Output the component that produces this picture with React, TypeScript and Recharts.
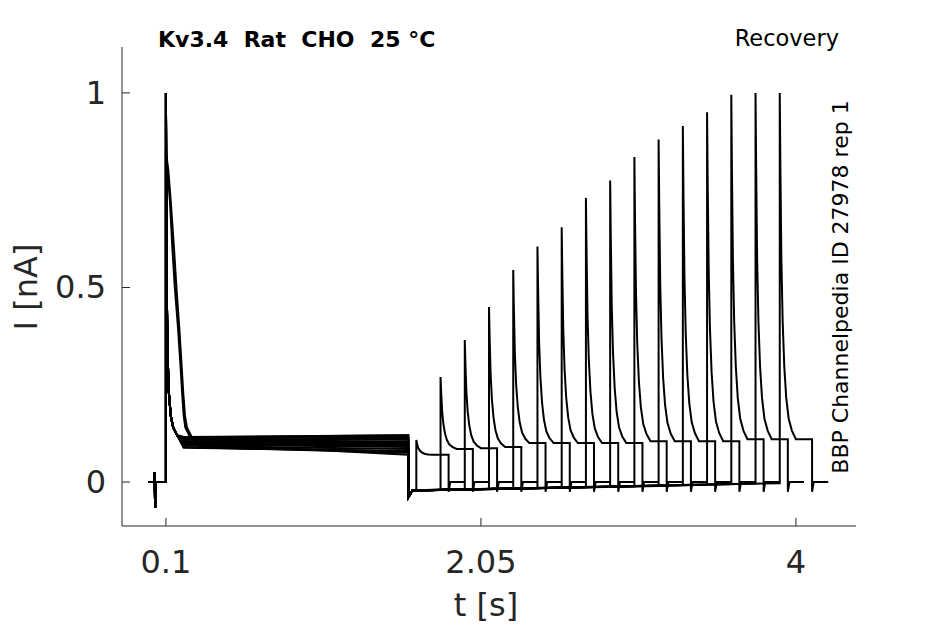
import React from 'react'
import { LineChart, Line, XAxis, YAxis } from 'recharts'

const AXIS = '#262626'
const FONT = '"DejaVu Sans", sans-serif'

// axis ticks
const xTicks = [0.1, 2.05, 4]
const yTicks = [0, 0.5, 1]

// holding current at the start (incl. the small capacitive blip)
const preT = [-0.01, 0.028, 0.03, 0.033, 0.036, 0.1]
const preI = [0, 0, 0.025, -0.067, 0, 0]

// first pulse decay, most sweeps
const fastT = [0.1, 0.102, 0.105, 0.11, 0.118, 0.13, 0.145, 0.17]
const fastI = [1.0, 0.75, 0.5, 0.33, 0.23, 0.17, 0.14, 0.12]

// two slower sweeps
const slowTraces = [3, 9]
const slowT1 = [0.1, 0.11, 0.125, 0.14, 0.155, 0.174, 0.19, 0.2, 0.21, 0.22, 0.25]
const slowT2 = [0.1, 0.115, 0.13, 0.15, 0.165, 0.182, 0.197, 0.207, 0.218, 0.23, 0.26]
const slowI = [0.85, 0.8, 0.72, 0.6, 0.5, 0.4, 0.3, 0.23, 0.17, 0.14, 0.115]

// sustained current 0.2 s -> 1.6 s
const tailEarly = [0.1, 0.09, 0.115, 0.105, 0.088, 0.112, 0.1, 0.095, 0.113, 0.092, 0.108, 0.103, 0.097, 0.116, 0.1, 0.09]
const tailLate = [0.07, 0.075, 0.12, 0.11, 0.08, 0.115, 0.1, 0.095, 0.118, 0.085, 0.112, 0.105, 0.09, 0.12, 0.1, 0.078]

// gap before the test pulse
const holdLevel = [-0.02, -0.019, -0.018, -0.017, -0.016, -0.015, -0.014, -0.013, -0.012, -0.011, -0.01, -0.008, -0.007, -0.005, -0.004, -0.003]

// test pulse
const recoveryStart = [1.65, 1.8, 1.95, 2.1, 2.25, 2.4, 2.55, 2.7, 2.85, 3.0, 3.15, 3.3, 3.45, 3.6, 3.75, 3.9]
const recoveryEnd = [1.85, 2.0, 2.15, 2.3, 2.45, 2.6, 2.75, 2.9, 3.05, 3.2, 3.35, 3.5, 3.65, 3.8, 3.95, 4.1]
const recoveryPeak = [0.108, 0.27, 0.365, 0.45, 0.545, 0.605, 0.655, 0.73, 0.775, 0.835, 0.88, 0.915, 0.95, 0.995, 1.0, 1.0]
const recoveryPlateau = [0.07, 0.085, 0.087, 0.09, 0.1, 0.1, 0.1, 0.1, 0.1, 0.105, 0.105, 0.105, 0.105, 0.11, 0.11, 0.11]
const recDecayDt = [0, 0.004, 0.01, 0.018, 0.028, 0.04, 0.055, 0.075, 0.1]
const recDecayFrac = [1, 0.78, 0.52, 0.34, 0.21, 0.12, 0.06, 0.025, 0]

type Pt = { t: number; i: number }

function buildTrace(k: number): Pt[] {
  const pts: Pt[] = []
  preT.forEach((t, j) => pts.push({ t, i: preI[j] }))
  const slow = slowTraces.indexOf(k)
  if (slow >= 0) {
    const ts = slow === 0 ? slowT1 : slowT2
    ts.forEach((t, j) => pts.push({ t, i: slowI[j] }))
    pts.push({ t: 0.3, i: tailEarly[k] })
  } else {
    fastT.forEach((t, j) => pts.push({ t, i: fastI[j] }))
    pts.push({ t: 0.21, i: tailEarly[k] })
  }
  pts.push({ t: 1.6, i: tailLate[k] })
  pts.push({ t: 1.6, i: -0.04 })
  pts.push({ t: 1.625, i: -0.022 })
  pts.push({ t: recoveryStart[k], i: holdLevel[k] })
  const peak = recoveryPeak[k]
  const plat = recoveryPlateau[k]
  recDecayDt.forEach((dt, j) =>
    pts.push({ t: recoveryStart[k] + dt, i: plat + recDecayFrac[j] * (peak - plat) })
  )
  pts.push({ t: recoveryEnd[k], i: plat })
  pts.push({ t: recoveryEnd[k], i: -0.025 })
  pts.push({ t: recoveryEnd[k] + 0.01, i: 0 })
  pts.push({ t: recoveryEnd[k] + 0.1, i: 0 })
  return pts
}

const traces = recoveryStart.map((_, k) => buildTrace(k))

const XTick = ({ x, y, payload }: any) => (
  <g>
    <line x1={x} x2={x} y1={y} y2={y - 8} stroke={AXIS} strokeWidth={1} />
    <text x={x} y={y + 47} textAnchor="middle" fontSize={32} fill={AXIS} fontFamily={FONT}>
      {payload.value}
    </text>
  </g>
)

const YTick = ({ x, y, payload }: any) => (
  <g>
    <line x1={x} x2={x + 8} y1={y} y2={y} stroke={AXIS} strokeWidth={1} />
    <text x={x - 16} y={y + 11} textAnchor="end" fontSize={32} fill={AXIS} fontFamily={FONT}>
      {payload.value}
    </text>
  </g>
)

export default function App() {
  return (
    <div style={{ position: 'absolute', left: 0, top: 0, width: 945, height: 624, background: '#fff' }}>
      <LineChart width={945} height={624} margin={{ top: 47, right: 89, bottom: 38, left: 62 }}>
        <XAxis
          type="number"
          dataKey="t"
          domain={[-0.172, 4.372]}
          allowDataOverflow
          ticks={xTicks}
          interval={0}
          height={60}
          tickSize={0}
          tickMargin={0}
          tickLine={false}
          axisLine={{ stroke: AXIS, strokeWidth: 1 }}
          tick={(p: any) => <XTick {...p} />}
        />
        <YAxis
          type="number"
          domain={[-0.113, 1.118]}
          allowDataOverflow
          ticks={yTicks}
          interval={0}
          width={60}
          tickSize={0}
          tickMargin={0}
          tickLine={false}
          axisLine={{ stroke: AXIS, strokeWidth: 1 }}
          tick={(p: any) => <YTick {...p} />}
        />
        {traces.map((tr, k) => (
          <Line
            key={k}
            data={tr}
            dataKey="i"
            type="linear"
            stroke="#000"
            strokeWidth={2}
            dot={false}
            activeDot={false}
            isAnimationActive={false}
          />
        ))}
      </LineChart>
      <svg width={945} height={624} style={{ position: 'absolute', left: 0, top: 0, pointerEvents: 'none' }}>
        <text x={158} y={47} fontSize={22} fontWeight="bold" fill="#000" fontFamily={FONT} style={{ whiteSpace: 'pre' }}>
          Kv3.4  Rat  CHO  25 °C
        </text>
        <text x={839} y={46} textAnchor="end" fontSize={22.5} fill="#000" fontFamily={FONT}>
          Recovery
        </text>
        <text x={848} y={287} textAnchor="middle" fontSize={22} fill="#000" fontFamily={FONT} transform="rotate(-90, 848, 287)">
          BBP Channelpedia ID 27978 rep 1
        </text>
        <text x={486} y={616} textAnchor="middle" fontSize={32} fill={AXIS} fontFamily={FONT}>
          t [s]
        </text>
        <text x={37} y={287} textAnchor="middle" fontSize={32} fill={AXIS} fontFamily={FONT} transform="rotate(-90, 37, 287)">
          I [nA]
        </text>
      </svg>
    </div>
  )
}
